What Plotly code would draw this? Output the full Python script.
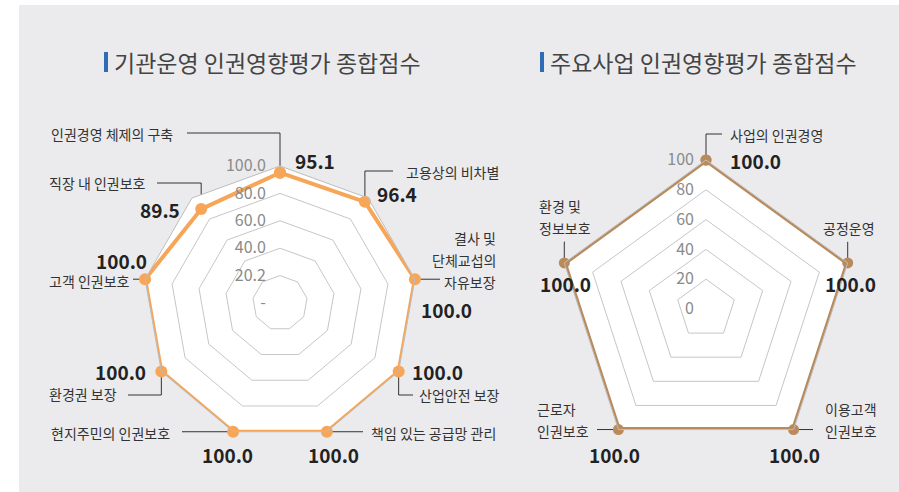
import math
import plotly.graph_objects as go

W, H = 899, 492
FONT = "Noto Sans CJK KR"

# 기관운영 인권영향평가 (9 areas)
ops_categories = [
    "인권경영 체제의 구축",
    "고용상의 비차별",
    "결사 및\n단체교섭의\n자유보장",
    "산업안전 보장",
    "책임 있는 공급망 관리",
    "현지주민의 인권보호",
    "환경권 보장",
    "고객 인권보호",
    "직장 내 인권보호",
]
ops_scores = [95.1, 96.4, 100.0, 100.0, 100.0, 100.0, 100.0, 100.0, 89.5]
ops_tickvals = [0, 20, 40, 60, 80, 100]
ops_ticktext = ["-", "20.2", "40.0", "60.0", "80.0", "100.0"]

# 주요사업 인권영향평가 (5 areas)
biz_categories = [
    "사업의 인권경영",
    "공정운영",
    "이용고객\n인권보호",
    "근로자\n인권보호",
    "환경 및\n정보보호",
]
biz_scores = [100.0, 100.0, 100.0, 100.0, 100.0]
biz_tickvals = [0, 20, 40, 60, 80, 100]
biz_ticktext = ["0", "20", "40", "60", "80", "100"]

ops_title = "기관운영 인권영향평가 종합점수"
biz_title = "주요사업 인권영향평가 종합점수"

ORANGE = "#F7A556"
BROWN = "#B98B5C"
PANEL = "#EBEBEE"
GRID = "#C6C6C6"

# ---- geometry of the two radar panels (pixel centre + radius) ----
OPS_C, OPS_R = (280, 303), 137
BIZ_C, BIZ_R = (706, 309), 149


def domain(center, radius):
    cx, cy = center
    return dict(x=[(cx - radius) / W, (cx + radius) / W],
                y=[1 - (cy + radius) / H, 1 - (cy - radius) / H])


def px(x):
    return x / W


def py(y):
    return 1 - y / H


def point(center, radius, n, i, value):
    ang = 2 * math.pi * i / n
    r = radius * value / 100.0
    return center[0] + r * math.sin(ang), center[1] - r * math.cos(ang)


fig = go.Figure()

fig.add_trace(go.Scatterpolar(
    r=ops_scores + ops_scores[:1],
    theta=ops_categories + ops_categories[:1],
    mode="lines+markers",
    line=dict(color=ORANGE, width=4),
    marker=dict(color=ORANGE, size=12),
    subplot="polar",
    hoverinfo="skip",
))
fig.add_trace(go.Scatterpolar(
    r=biz_scores + biz_scores[:1],
    theta=biz_categories + biz_categories[:1],
    mode="lines+markers",
    line=dict(color=BROWN, width=5),
    marker=dict(color=BROWN, size=11),
    subplot="polar2",
    hoverinfo="skip",
))


def polar_layout(center, radius, tickvals, ticktext, ticklen):
    return dict(
        domain=domain(center, radius),
        bgcolor="white",
        gridshape="linear",
        radialaxis=dict(
            range=[0, 100], tickvals=tickvals, ticktext=ticktext,
            angle=90, side="counterclockwise", showline=False,
            gridcolor=GRID, gridwidth=1, tickangle=90,
            ticks="outside", ticklen=ticklen, tickcolor="rgba(0,0,0,0)",
            tickfont=dict(family=FONT, size=16, color="#8A8A8A"),
            layer="above traces",
        ),
        angularaxis=dict(
            direction="clockwise", rotation=90,
            showticklabels=False, ticks="", showgrid=False,
            showline=True, linecolor="#BDBDBD", linewidth=1,
        ),
    )


shapes = [
    dict(type="rect", xref="paper", yref="paper", x0=px(19), x1=1, y0=0, y1=py(5),
         fillcolor=PANEL, line=dict(width=0), layer="below"),
]
annotations = []

# titles with a small blue marker bar
for title, x_bar in ((ops_title, 104), (biz_title, 540)):
    shapes.append(dict(type="rect", xref="paper", yref="paper",
                       x0=px(x_bar), x1=px(x_bar + 4), y0=py(72), y1=py(52),
                       fillcolor="#2E6DB4", line=dict(width=0)))
    annotations.append(dict(text=title, x=px(x_bar + 8), y=py(62), xref="paper", yref="paper",
                            xanchor="left", yanchor="middle", showarrow=False,
                            font=dict(family=FONT, size=23, color="#444444")))

# label placement: category text (x, first-line y, anchor), value (x, y, anchor), leader
ops_layout = [
    dict(text=(175, 134, "right"), value=(293, 160, "left"), lead=("hv", 187, 133)),
    dict(text=(404, 172, "left"), value=(375, 193, "left"), lead=("hv", 393, 171)),
    dict(text=(498, 238, "right"), value=(419, 309, "left"), lead=("h", 440, None)),
    dict(text=(417, 395, "left"), value=(410, 371, "left"), lead=("hv", 413, 395)),
    dict(text=(498, 433, "right"), value=(333, 454, "center"), lead=("h", 363, None)),
    dict(text=(172, 433, "right"), value=(227, 454, "center"), lead=("h", 182, None)),
    dict(text=(119, 394, "right"), value=(148, 371, "right"), lead=("hv", 128, 395)),
    dict(text=(132, 281, "right"), value=(149, 260, "right"), lead=("h", 133, None)),
    dict(text=(148, 183, "right"), value=(182, 209, "right"), lead=("hv", 157, 183)),
]
biz_layout = [
    dict(text=(728, 135, "left"), value=(728, 161, "left"), lead=("hv", 722, 134)),
    dict(text=(849, 228, "center"), value=(850, 283, "center"), lead=("hv", 848, 242)),
    dict(text=(823, 409, "left"), value=(794, 454, "center"), lead=("h", 813, None)),
    dict(text=(535, 409, "left"), value=(614, 454, "center"), lead=("h", 597, None)),
    dict(text=(537, 206, "left"), value=(538, 283, "left"), lead=("hv", 565, 242)),
]

LINE_GAP = 22


def add_labels(categories, scores, center, radius, layout):
    n = len(categories)
    for i, (cat, val, spec) in enumerate(zip(categories, scores, layout)):
        tx, ty, ta = spec["text"]
        for k, line in enumerate(cat.split("\n")):
            annotations.append(dict(text=line, x=px(tx), y=py(ty + k * LINE_GAP),
                                    xref="paper", yref="paper", xanchor=ta, yanchor="middle",
                                    showarrow=False,
                                    font=dict(family=FONT, size=14, color="#333333")))
        vx, vy, va = spec["value"]
        annotations.append(dict(text=f"{val:.1f}", x=px(vx), y=py(vy),
                                xref="paper", yref="paper", xanchor=va, yanchor="middle",
                                showarrow=False,
                                font=dict(family=FONT, size=19, color="#222222", weight=700)))
        mx, my = point(center, radius, n, i, val)
        kind, x0, y0 = spec["lead"]
        if kind == "hv":
            pts = [(x0, y0), (mx, y0), (mx, my)]
        else:
            pts = [(x0, my), (mx, my)]
        path = "M " + " L ".join(f"{px(a)},{py(b)}" for a, b in pts)
        shapes.append(dict(type="path", xref="paper", yref="paper", path=path,
                           line=dict(color="#333333", width=1), layer="below"))


add_labels(ops_categories, ops_scores, OPS_C, OPS_R, ops_layout)
add_labels(biz_categories, biz_scores, BIZ_C, BIZ_R, biz_layout)

fig.update_layout(
    width=W, height=H,
    margin=dict(l=0, r=0, t=0, b=0),
    paper_bgcolor="white",
    showlegend=False,
    polar=polar_layout(OPS_C, OPS_R, ops_tickvals, ops_ticktext, 8),
    polar2=polar_layout(BIZ_C, BIZ_R, biz_tickvals, biz_ticktext, 6),
    shapes=shapes,
    annotations=annotations,
    font=dict(family=FONT),
)

fig.write_html("out.html")
